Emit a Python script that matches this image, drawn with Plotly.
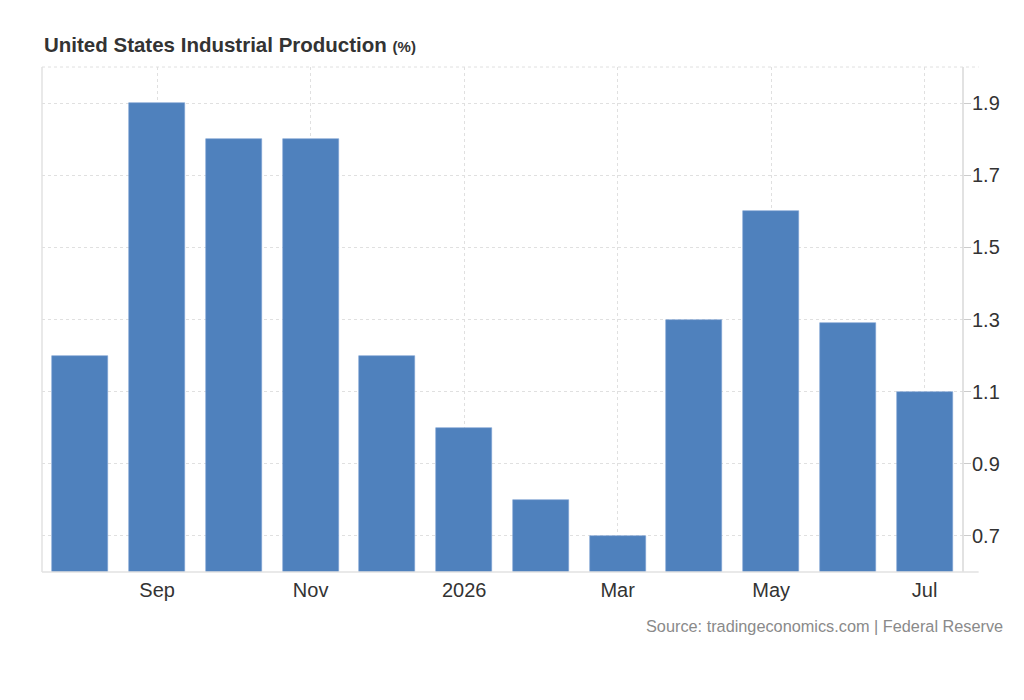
import plotly.graph_objects as go

# %%------------------------------- DATA -------------------------------
months = ["Aug", "Sep", "Oct", "Nov", "Dec", "Jan", "Feb", "Mar", "Apr", "May", "Jun", "Jul"]
values = [1.2, 1.9, 1.8, 1.8, 1.2, 1.0, 0.8, 0.7, 1.3, 1.6, 1.29, 1.1]
tick_pos = [1, 3, 5, 7, 9, 11]
tick_labels = ["Sep", "Nov", "2026", "Mar", "May", "Jul"]
y_ticks = [0.7, 0.9, 1.1, 1.3, 1.5, 1.7, 1.9]

BAR = "#4F81BD"
GRID = "#e0e0e0"
FONT = "Liberation Sans, Arial, Helvetica, sans-serif"

# %%------------------------------- FIGURE -----------------------------
fig = go.Figure()
fig.add_trace(go.Bar(
    x=list(range(len(months))),
    y=values,
    width=0.73,
    marker=dict(color=BAR, line=dict(color="#7da3d4", width=0.6)),
    hovertext=months,
    showlegend=False,
))

# page body adds 8px, so margins are shifted by that
fig.update_layout(
    width=1024, height=700,
    margin=dict(l=34, r=69, t=59, b=136),
    paper_bgcolor="white", plot_bgcolor="white",
    font=dict(family=FONT, color="#333333"),
    bargap=0,
    xaxis=dict(
        range=[-0.5, 11.5],
        tickmode="array", tickvals=tick_pos, ticktext=tick_labels,
        tickfont=dict(size=20, color="#333333"),
        ticklabelstandoff=4,
        showgrid=True, gridcolor=GRID, griddash="dot", gridwidth=1,
        showline=False, zeroline=False, ticks="",
    ),
    yaxis=dict(
        range=[0.6, 2.0], side="right",
        tickmode="array", tickvals=y_ticks,
        ticktext=[f"{v:.1f}" for v in y_ticks],
        tickfont=dict(size=20, color="#333333"),
        ticklabelstandoff=-3,
        showgrid=True, gridcolor=GRID, griddash="dot", gridwidth=1,
        showline=False, zeroline=False,
        ticks="outside", ticklen=7, tickcolor="#cccccc",
    ),
)

# frame lines
fig.add_shape(type="line", xref="paper", yref="paper", x0=0, x1=0, y0=0, y1=1,
              line=dict(color="#e2e2e2", width=1.5))
fig.add_shape(type="line", xref="paper", yref="paper", x0=1, x1=1, y0=0, y1=1,
              line=dict(color="#d8d8d8", width=1.5))
fig.add_shape(type="line", xref="paper", yref="paper", x0=0, x1=1.017, y0=0, y1=0,
              line=dict(color="#e2e2e2", width=1.5))
fig.add_shape(type="line", xref="paper", yref="paper", x0=0, x1=1.017, y0=1, y1=1,
              line=dict(color=GRID, width=1, dash="dot"))

# title and source
fig.add_annotation(
    text="<b>United States Industrial Production</b> <b><span style='font-size:15px'>(%)</span></b>",
    xref="paper", yref="paper", x=0, y=1, xanchor="left", yanchor="bottom", yshift=9,
    showarrow=False, font=dict(size=20.5, color="#333333", family=FONT),
)
fig.add_annotation(
    text="Source: tradingeconomics.com | Federal Reserve",
    xref="paper", yref="paper", x=1.046, y=0, xanchor="right", yanchor="top", yshift=-43,
    showarrow=False, font=dict(size=16.3, color="#8a8a8a", family=FONT),
)

fig.write_html("out.html")
